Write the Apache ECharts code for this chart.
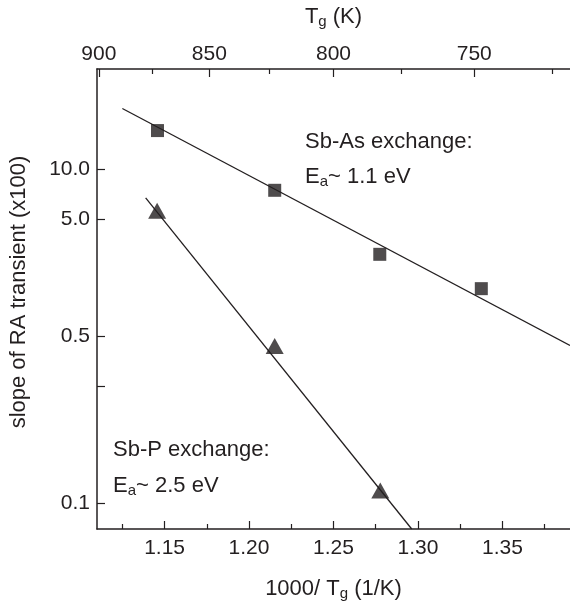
<!DOCTYPE html>
<html><head><meta charset="utf-8">
<script src="https://cdn.jsdelivr.net/npm/echarts@6/dist/echarts.min.js"></script>
<style>html,body{margin:0;padding:0;background:#fff}#c{width:570px;height:605px}</style>
</head><body><div id="c"></div>
<script>
// ---- data ----
const sbAsX = [1.1458, 1.2152, 1.2774, 1.3375];
const sbAsY = [17.1, 7.5, 3.10, 1.93];
const sbPX = [1.1456, 1.2152, 1.2777];
const sbPY = [5.65, 0.876, 0.119];
const sbAsFitX = [1.125, 1.39];
const sbAsFitY = [23.2, 0.882];
const sbPFitX = [1.1388, 1.2963];
const sbPFitY = [6.76, 0.07];
const bottomTicks = [1.15, 1.20, 1.25, 1.30, 1.35];
const bottomMinorTicks = [1.125, 1.175, 1.225, 1.275, 1.325, 1.375];
const topTicksK = [900, 850, 800, 750];
const topMinorTicksK = [875, 825, 775, 725];
const yTickValues = [10, 5, 1, 0.5, 0.1];
const yTickLabels = ['10.0', '5.0', '0.5', '', '0.1'];
const xMin = 1.11, xMax = 1.39, yMin = 0.07, yMax = 40;

const FONT = "'Liberation Sans', Arial, Helvetica, sans-serif";
const INK = '#231f20';
const pairs = (xs, ys) => xs.map((x, i) => [x, ys[i]]);
const richSub = {
  m: {fontSize: 22, fontFamily: FONT, color: INK, fill: INK, lineHeight: 24, verticalAlign: 'middle'},
  s: {fontSize: 15, fontFamily: FONT, color: INK, fill: INK, lineHeight: 15, padding: [16, 0, 0, 0], verticalAlign: 'bottom'}
};

const chart = echarts.init(document.getElementById('c'), null, {renderer: 'canvas'});
const axisLine = {show: true, onZero: false, lineStyle: {color: INK, width: 1.5}};
const noLine = {show: false, onZero: false};
const tickStyle = {color: INK, width: 1.2};
const labelStyle = {color: INK, fontSize: 21, fontFamily: FONT};

const option = {
  backgroundColor: '#fff',
  animation: false,
  grid: {left: 97, right: 0, top: 69, bottom: 76, containLabel: false, outerBoundsMode: 'none'},
  xAxis: [
    {type: 'value', position: 'bottom', min: xMin, max: xMax,
     axisLine: axisLine,
     axisTick: {show: true, inside: true, length: 8, lineStyle: tickStyle, customValues: bottomTicks},
     axisLabel: {show: true, margin: 9, ...labelStyle, customValues: bottomTicks, formatter: v => v.toFixed(2)},
     splitLine: {show: false},
     name: '{m|1000/ T}{s|g}{m| (1/K)}', nameLocation: 'middle', nameGap: 48,
     nameTextStyle: {rich: richSub}},
    {type: 'value', position: 'bottom', min: xMin, max: xMax,
     axisLine: noLine,
     axisTick: {show: true, inside: true, length: 5, lineStyle: tickStyle, customValues: bottomMinorTicks},
     axisLabel: {show: false}, splitLine: {show: false}},
    {type: 'value', position: 'top', min: xMin, max: xMax,
     axisLine: axisLine,
     axisTick: {show: true, inside: true, length: 8, lineStyle: tickStyle, customValues: topTicksK.map(k => 1000 / k)},
     axisLabel: {show: true, margin: 4, ...labelStyle, customValues: topTicksK.map(k => 1000 / k), formatter: v => String(Math.round(1000 / v))},
     splitLine: {show: false},
     name: '{m|T}{s|g}{m| (K)}', nameLocation: 'middle', nameGap: 40,
     nameTextStyle: {rich: richSub}},
    {type: 'value', position: 'top', min: xMin, max: xMax,
     axisLine: noLine,
     axisTick: {show: true, inside: true, length: 5, lineStyle: tickStyle, customValues: topMinorTicksK.map(k => 1000 / k)},
     axisLabel: {show: false}, splitLine: {show: false}}
  ],
  yAxis: [
    {type: 'log', logBase: 10, min: yMin, max: yMax, position: 'left',
     axisLine: axisLine, axisTick: {show: false}, axisLabel: {show: false}, splitLine: {show: false}},
    {type: 'value', position: 'left', min: Math.log10(yMin), max: Math.log10(yMax),
     axisLine: noLine,
     axisTick: {show: true, inside: true, length: 8, lineStyle: tickStyle, customValues: yTickValues.map(v => Math.log10(v))},
     axisLabel: {show: true, margin: 7, ...labelStyle, customValues: yTickValues.map(v => Math.log10(v)),
       formatter: v => {
         let best = 0, bd = Infinity;
         yTickValues.forEach((t, i) => { const d = Math.abs(Math.log10(t) - v); if (d < bd) { bd = d; best = i; } });
         return yTickLabels[best];
       }},
     splitLine: {show: false}}
  ],
  series: [
    {type: 'line', name: 'Sb-As fit', xAxisIndex: 0, yAxisIndex: 0, data: pairs(sbAsFitX, sbAsFitY),
     symbol: 'none', lineStyle: {color: INK, width: 1.3}, silent: true, z: 2},
    {type: 'line', name: 'Sb-P fit', xAxisIndex: 0, yAxisIndex: 0, data: pairs(sbPFitX, sbPFitY),
     symbol: 'none', lineStyle: {color: INK, width: 1.3}, silent: true, z: 2},
    {type: 'scatter', name: 'Sb-As', xAxisIndex: 0, yAxisIndex: 0, data: pairs(sbAsX, sbAsY),
     symbol: 'rect', symbolSize: 13, itemStyle: {color: INK}, z: 3},
    {type: 'scatter', name: 'Sb-P', xAxisIndex: 0, yAxisIndex: 0, data: pairs(sbPX, sbPY),
     symbol: 'triangle', symbolSize: [18, 16], itemStyle: {color: INK}, z: 3}
  ],
  graphic: [
    {type: 'text', x: 19, y: 292, rotation: Math.PI / 2,
     style: {text: 'slope of RA transient (x100)', fontSize: 22, fontFamily: FONT, fill: INK, align: 'center', verticalAlign: 'middle'}},
    {type: 'text', x: 305, y: 142,
     style: {text: 'Sb-As exchange:', fontSize: 22, fontFamily: FONT, fill: INK, align: 'left', verticalAlign: 'middle'}},
    {type: 'text', x: 305, y: 177,
     style: {text: '{m|E}{s|a}{m|~ 1.1 eV}', rich: richSub, align: 'left', verticalAlign: 'middle'}},
    {type: 'text', x: 113, y: 450,
     style: {text: 'Sb-P exchange:', fontSize: 22, fontFamily: FONT, fill: INK, align: 'left', verticalAlign: 'middle'}},
    {type: 'text', x: 113, y: 486,
     style: {text: '{m|E}{s|a}{m|~ 2.5 eV}', rich: richSub, align: 'left', verticalAlign: 'middle'}}
  ]
};
chart.setOption(option);
</script></body></html>
